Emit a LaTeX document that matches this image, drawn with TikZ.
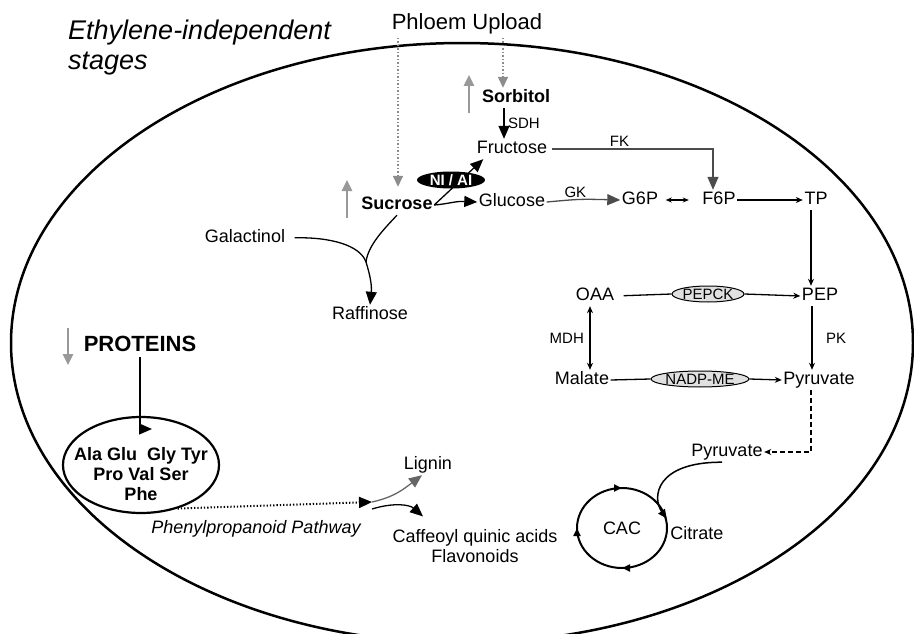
\documentclass[tikz,border=0pt]{standalone}
\usepackage{fontspec}
\setmainfont{Liberation Sans}
\usetikzlibrary{arrows.meta, shapes.geometric, decorations.markings}
\tikzstyle{lbl} = [font=\fontsize{18}{20}\selectfont, inner sep=1.5pt, text height=13pt, text depth=4pt]
\tikzstyle{bold lbl} = [lbl, font=\bfseries\fontsize{18}{20}\selectfont]
\tikzstyle{enz} = [font=\fontsize{15}{17}\selectfont, inner sep=1.5pt]
\tikzstyle{enzyme} = [draw, ellipse, fill=black!12, line width=1pt, minimum width=72pt, minimum height=16pt, inner sep=0pt, font=\fontsize{15}{17}\selectfont]
\tikzstyle{flow} = [-{Triangle[length=13pt, width=11pt]}, line width=1.3pt]
\tikzstyle{step flow} = [-{Stealth[length=7pt, width=6pt]}, line width=1.3pt]
\tikzstyle{trend} = [-{Triangle[length=11pt, width=10pt]}, line width=2.5pt, black!40]
\tikzstyle{upload} = [-{Triangle[length=11pt, width=10pt]}, dotted, line width=1.5pt, black!45]
\tikzstyle{cycle} = [draw, ellipse, line width=2pt, minimum width=90pt, minimum height=80pt, inner sep=0pt, font=\fontsize{18}{20}\selectfont,
    postaction={decorate, decoration={markings,
        mark=at position 0.25 with {\arrowreversed{Triangle[length=8pt, width=7pt]}},
        mark=at position 0.5 with {\arrowreversed{Triangle[length=8pt, width=7pt]}},
        mark=at position 0.75 with {\arrowreversed{Triangle[length=8pt, width=7pt]}}}}]

\begin{document}
\begin{tikzpicture}[x=1pt, y=-1pt]
    \useasboundingbox (0,0) rectangle (914,634);

    % Cell outline.
    \begin{scope}
        \clip (0,0) rectangle (914,634);
        \draw [line width=2.5pt] (462,343) ellipse [x radius=451, y radius=300];
    \end{scope}

    % Headings.
    \node (stage) [anchor=west, align=left, inner sep=0pt, font=\itshape\fontsize{27}{30}\selectfont] at (68,48) {Ethylene-independent\\stages};
    \node (phloem) [inner sep=1pt, font=\fontsize{22}{24}\selectfont] at (467,24) {Phloem Upload};

    % Sugars.
    \node (sorb) [bold lbl] at (516,98) {Sorbitol};
    \node (fru) [lbl] at (512,149) {Fructose};
    \node (suc) [bold lbl] at (397,205) {Sucrose};
    \node (glu) [lbl] at (512,202) {Glucose};
    \node (g6p) [lbl] at (640,200) {G6P};
    \node (f6p) [lbl] at (719,200) {F6P};
    \node (tp) [lbl] at (816,200) {TP};
    \node (gal) [lbl] at (245,238) {Galactinol};
    \node (raf) [lbl] at (370,315) {Raffinose};

    % Organic acids.
    \node (oaa) [lbl] at (595,296) {OAA};
    \node (pep) [lbl] at (820,296) {PEP};
    \node (mal) [lbl] at (582,380) {Malate};
    \node (pyr) [lbl] at (819,380) {Pyruvate};
    \node (pepck) [enzyme] at (708,294) {PEPCK};
    \node (nadp) [enzyme, minimum width=86pt] at (700,379) {NADP-ME};
    \node (pyr2) [lbl] at (727,452) {Pyruvate};
    \node (cac) [cycle] at (622,528) {CAC};
    \node (cit) [lbl] at (697,535) {Citrate};

    % Amino acids and phenylpropanoids.
    \node (prot) [lbl, font=\bfseries\fontsize{22}{24}\selectfont] at (140,347) {PROTEINS};
    \node (amino) [draw, ellipse, line width=2.2pt, minimum width=156pt, minimum height=96pt] at (141,465) {};
    \node (aalist) [align=center, inner sep=0pt, font=\bfseries\fontsize{18}{20}\selectfont] at (141,474) {Ala Glu\ \ Gly Tyr\\Pro Val Ser\\Phe};
    \node (lig) [lbl] at (428,465) {Lignin};
    \node (caff) [align=center, inner sep=1pt, font=\fontsize{18}{19.5}\selectfont] at (475,546) {Caffeoyl quinic acids\\Flavonoids};
    \node (ppp) [inner sep=1pt, font=\itshape\fontsize{18}{20}\selectfont] at (256,529) {Phenylpropanoid Pathway};

    % Phloem upload and trends.
    \coordinate (up1) at (398,38);
    \coordinate (up2) at (503,38);
    \draw [upload, shorten >=8pt] (up1) -- (up1 |- suc.north);
    \draw [upload] (up2) -- (up2 |- sorb.north);

    \coordinate (suc up) at (347,218);
    \coordinate (sorb up) at (469,113);
    \coordinate (prot down) at (68,328);
    \draw [trend] (suc up) -- ++(0,-38);
    \draw [trend] (sorb up) -- ++(0,-38);
    \draw [trend] (prot down) -- ++(0,37);

    % Sugar conversions.
    \draw [flow] ([xshift=-12pt]sorb.south) -- ([xshift=-8pt]fru.north) node [enz, midway, right=2pt] {SDH};
    \draw [flow] (suc.east) -- ([xshift=8pt]fru.south west);
    \draw [flow] (suc.east) .. controls (448,204) and (455,201) .. (glu.west);
    \node (niai) [fill=black, ellipse, minimum width=68pt, minimum height=17pt, inner sep=0pt, text=white, font=\bfseries\fontsize{15}{17}\selectfont] at (451,180) {NI / AI};

    \draw [flow, black!70] (glu.east) .. controls (580,199) .. (g6p.west) node [enz, pos=0.4, above, black] {GK};
    \draw [{Stealth[length=6pt, width=5pt]}-{Stealth[length=6pt, width=5pt]}, line width=1.3pt, shorten <=6pt, shorten >=12pt] (g6p.east) -- (f6p.west);
    \draw [flow, black!70] ([xshift=3pt]fru.east) -| ([xshift=-6pt]f6p.north) node [enz, pos=0.21, above, black] {FK};
    \draw [step flow] (f6p.east) -- (tp.west);
    \draw [step flow] ([xshift=-5pt]tp.south) -- ([xshift=-5pt]tp.south |- pep.north);

    % Raffinose.
    \coordinate (rjoin) at (366,262);
    \draw [line width=1.3pt, shorten <=8pt] (gal.east) .. controls (330,237) and (360,245) .. (rjoin);
    \draw [line width=1.3pt] (suc.south) .. controls (385,228) and (368,245) .. (rjoin);
    \draw [flow] (rjoin) .. controls (370,275) and (372,285) .. (raf.north);

    % Gluconeogenesis and malate.
    \draw [line width=1.3pt, shorten <=8pt] (oaa.east) -- (pepck.west);
    \draw [step flow] (pepck.east) -- (pep.west);
    \draw [{Stealth[length=7pt, width=6pt]}-{Stealth[length=7pt, width=6pt]}, line width=1.3pt] ([xshift=-5pt]oaa.south) -- ([xshift=-5pt]oaa.south |- mal.north) node [enz, midway, left=4pt] {MDH};
    \draw [line width=1.3pt] (mal.east) -- (nadp.west);
    \draw [step flow] (nadp.east) -- (pyr.west);
    \draw [step flow] ([xshift=-8pt]pep.south) -- ([xshift=-8pt]pep.south |- pyr.north) node [enz, midway, right=12pt] {PK};

    % Into the CAC.
    \draw [step flow, line width=1.6pt, dash pattern=on 5pt off 3pt] ([xshift=-8pt]pyr.south) |- (pyr2.east);
    \draw [-{Triangle[length=9pt, width=8pt]}, line width=1.5pt] ([xshift=-5pt]pyr2.south) .. controls (655,462) and (652,498) .. (cac.12);

    % Amino acids to phenylpropanoids.
    \coordinate (aa in) at (152,429);
    \draw [flow] (prot.south) |- (aa in);
    \coordinate (split) at (372,502);
    \coordinate (split2) at (372,509);
    \draw [flow, dotted, line width=2pt] (amino.-50) -- (split);
    \draw [flow, black!60] (split) .. controls (395,497) and (405,488) .. ([xshift=-6pt]lig.south);
    \draw [flow] (split2) .. controls (395,502) and (410,505) .. ([xshift=-52pt, yshift=12pt]caff.north);
\end{tikzpicture}
\end{document}
